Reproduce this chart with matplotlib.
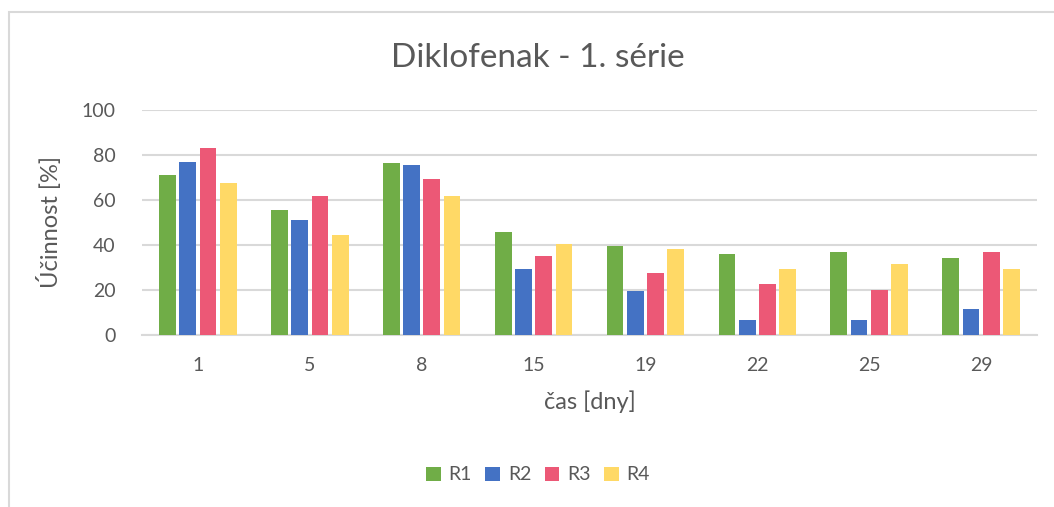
import matplotlib.pyplot as plt
import numpy as np
from matplotlib.patches import Rectangle

days = ["1", "5", "8", "15", "19", "22", "25", "29"]
series_names = ["R1", "R2", "R3", "R4"]
r1 = [71.2, 55.6, 76.5, 45.7, 39.5, 35.8, 36.7, 34.0]
r2 = [76.8, 51.2, 75.6, 29.3, 19.3, 6.3, 6.3, 11.2]
r3 = [83.0, 61.9, 69.1, 34.9, 27.6, 22.4, 19.9, 36.7]
r4 = [67.3, 44.5, 61.6, 40.2, 38.0, 29.3, 31.3, 29.3]
colors = ["#70AD47", "#4472C4", "#EC5876", "#FFD966"]

TEXT = "#595959"
GRID = "#D9D9D9"

plt.rcParams["font.family"] = ["Lato", "DejaVu Sans"]

fig = plt.figure(figsize=(10.54, 5.07), dpi=100)
fig.patches.append(Rectangle((8.5 / 1054, -0.1), 1.2, (507 - 11.5) / 507 + 0.1,
                             transform=fig.transFigure, fill=False,
                             edgecolor=GRID, linewidth=1.5))

ax = fig.add_axes([142 / 1054, 172.5 / 507, 895 / 1054, 224.5 / 507])

x = np.arange(len(days))
slot = 0.181
for i, (name, vals) in enumerate(zip(series_names, [r1, r2, r3, r4])):
    ax.bar(x + (i - 1.5) * slot, vals, width=0.15, color=colors[i],
           label=name, zorder=3)

ax.set_xlim(-0.5, len(days) - 0.5)
ax.set_ylim(0, 100)
ax.set_yticks(np.arange(0, 101, 20))
ax.set_xticks(x)
ax.set_xticklabels(days)
ax.grid(axis="y", color=GRID, linewidth=1.5, zorder=0)
for side in ["top", "right", "left"]:
    ax.spines[side].set_visible(False)
ax.spines["bottom"].set_color(GRID)
ax.spines["bottom"].set_linewidth(1.5)
ax.tick_params(length=0, labelsize=14, labelcolor=TEXT)
ax.tick_params(axis="x", pad=16)
ax.tick_params(axis="y", pad=19)

fig.text(538 / 1054, 1 - 58 / 507, "Diklofenak - 1. série", fontsize=24,
         color=TEXT, ha="center", va="center")
ax.set_xlabel("čas [dny]", fontsize=17, color=TEXT, labelpad=12)
ax.set_ylabel("Účinnost [%]", fontsize=17, color=TEXT, labelpad=14)

fig.legend(loc="center", bbox_to_anchor=(538 / 1054, 32 / 507), ncol=4,
           frameon=False, fontsize=14, labelcolor=TEXT, handlelength=0.75,
           handleheight=0.75, handletextpad=0.4, columnspacing=0.7)

fig.savefig("out.png", dpi=100)
